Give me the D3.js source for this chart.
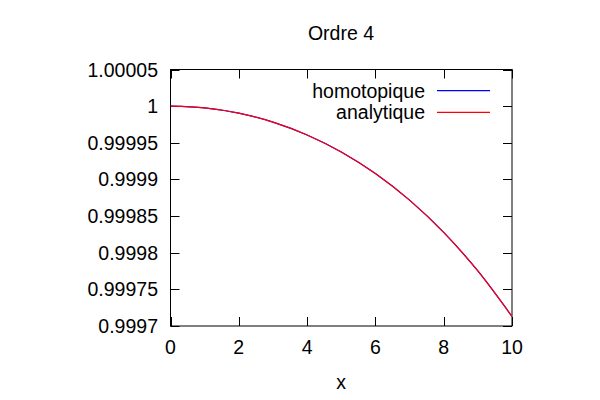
<!DOCTYPE html>
<html><head><meta charset="utf-8">
<script src="https://cdn.jsdelivr.net/npm/d3@7"></script>
<style>body{margin:0;background:#fff}svg{display:block}text{font-family:"Liberation Sans",Arial,sans-serif;font-size:19.5px;fill:#000}</style>
</head><body><svg id="c" width="600" height="400"></svg>
<script>
const xs = [0,1,2,3,4,5,6,7,8,9,10];
const homotopique = [1.0,0.9999976,0.9999904,0.9999782,0.9999607,0.9999375,0.9999081,0.9998717,0.9998277,0.9997751,0.999713];
const analytique  = [1.0,0.9999976,0.9999904,0.9999782,0.9999607,0.9999375,0.9999081,0.9998717,0.9998277,0.9997751,0.999713];
const xTicks = [0,2,4,6,8,10];
const yTicks = [0.9997,0.99975,0.9998,0.99985,0.9999,0.99995,1,1.00005];
const yTickLabels = ["0.9997","0.99975","0.9998","0.99985","0.9999","0.99995","1","1.00005"];
const seriesNames = ["homotopique","analytique"];
const seriesColors = ["#0000ff","#ff0000"];

const svg = d3.select("#c");
const L=170.5, R=512, T=69.5, B=326;
const x = d3.scaleLinear().domain([0,10]).range([L,R]);
const y = d3.scaleLinear().domain([0.9997,1.00005]).range([B,T]);
const tl = 9;

// ticks
const g = svg.append("g").attr("stroke","#000").attr("stroke-width",1);
xTicks.forEach(t=>{
  const px = Math.round(x(t))+0.5;
  g.append("line").attr("x1",px).attr("x2",px).attr("y1",B).attr("y2",B-tl);
  g.append("line").attr("x1",px).attr("x2",px).attr("y1",T).attr("y2",T+tl);
});
yTicks.forEach(t=>{
  const py = Math.round(y(t))+0.5;
  g.append("line").attr("x1",L).attr("x2",L+tl).attr("y1",py).attr("y2",py);
  g.append("line").attr("x1",R).attr("x2",R-tl).attr("y1",py).attr("y2",py);
});
svg.append("rect").attr("x",L).attr("y",T).attr("width",R-L).attr("height",B-T)
  .attr("fill","none").attr("stroke","#000").attr("stroke-width",1);

// labels
xTicks.forEach(t=>{
  svg.append("text").attr("x",x(t)).attr("y",354).attr("text-anchor","middle").text(t);
});
yTicks.forEach((t,i)=>{
  svg.append("text").attr("x",158).attr("y",y(t)+7).attr("text-anchor","end").text(yTickLabels[i]);
});
svg.append("text").attr("x",341).attr("y",389).attr("text-anchor","middle").text("x");
svg.append("text").attr("x",341).attr("y",40).attr("text-anchor","middle").text("Ordre 4");

// lines
const line = d3.line().x((d,i)=>x(xs[i])).y(d=>y(d)).curve(d3.curveMonotoneX);
const clip = svg.append("clipPath").attr("id","cp").append("rect").attr("x",L).attr("y",T).attr("width",R-L).attr("height",B-T);
[homotopique,analytique].forEach((s,k)=>{
  svg.append("path").attr("d",line(s)).attr("fill","none").attr("stroke",seriesColors[k]).attr("stroke-width",1.2).attr("clip-path","url(#cp)");
});

// legend
seriesNames.forEach((n,k)=>{
  const cy = 90.7 + k*21.6;
  svg.append("text").attr("x",425).attr("y",cy+7).attr("text-anchor","end").text(n);
  svg.append("line").attr("x1",437).attr("x2",490).attr("y1",cy).attr("y2",cy).attr("stroke",seriesColors[k]).attr("stroke-width",1.2);
});
</script></body></html>
